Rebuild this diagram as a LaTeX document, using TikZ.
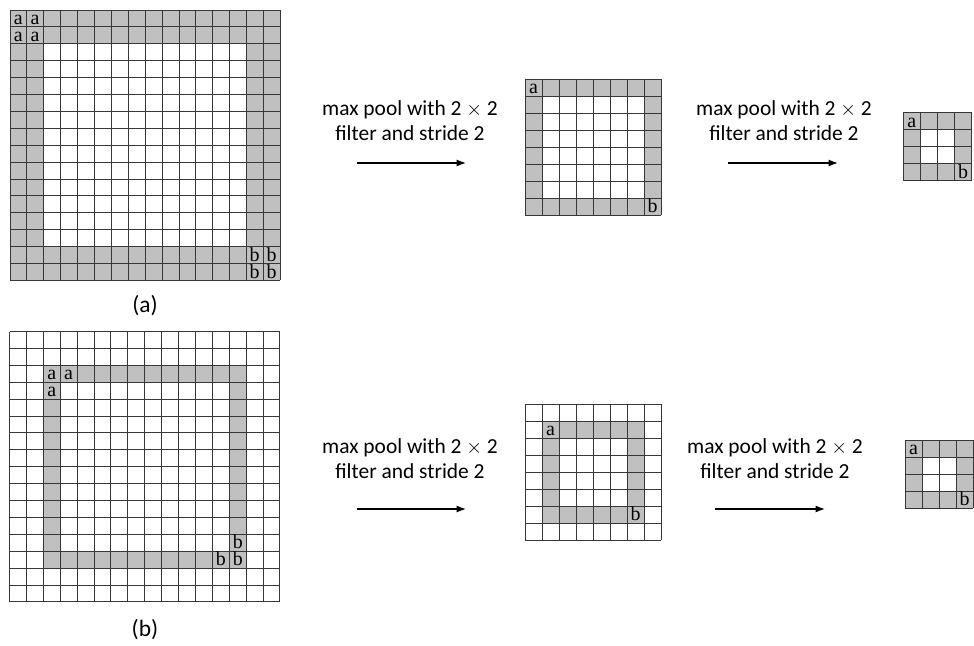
\documentclass[tikz,border=0pt]{standalone}
\usepackage{fontspec}
\setmainfont{Carlito}
\newfontfamily\cellfont{Liberation Serif}
\usetikzlibrary{arrows.meta}
\definecolor{ringgray}{RGB}{192,192,192}
\definecolor{gridline}{RGB}{55,55,55}

% one feature map: origin x, origin y, cell size, n, ring lo, ring hi, inner lo, inner hi
\newcommand{\featmap}[8]{%
  \begin{scope}[shift={(#1,#2)}, scale=#3]
    \fill[ringgray] (#5,#5) rectangle (#6,#6);
    \fill[white] (#7,#7) rectangle (#8,#8);
    \foreach \i in {0,...,#4} {
      \draw[gridstroke] (\i,0) -- (\i,#4);
      \draw[gridstroke] (0,\i) -- (#4,\i);
    }
  \end{scope}}

\begin{document}
\begin{tikzpicture}[
  x=0.03cm, y=-0.03cm,
  gridstroke/.style={draw=gridline, line width=0.8pt},
  letter/.style={font=\cellfont\fontsize{17}{17}\selectfont, inner sep=0pt, anchor=base},
  caption/.style={font=\fontsize{18.3}{21.5}\selectfont, align=center},
  sublabel/.style={font=\fontsize{20}{24}\selectfont},
  poolarrow/.style={-{Latex[length=8pt,width=6pt]}, line width=1.2pt}
]
\useasboundingbox (0,0) rectangle (974,646);

% (a) ring on the border
\featmap{10}{10}{16.9}{16}{0}{16}{2}{14}
\featmap{525}{79}{17}{8}{0}{8}{1}{7}
\featmap{903.3}{112.3}{17.1}{4}{0}{4}{1}{3}

\node[letter] (aa1) at (18.2,24.8) {a};
\node[letter] (aa2) at (35.1,24.8) {a};
\node[letter] (aa3) at (18.2,41.7) {a};
\node[letter] (aa4) at (35.1,41.7) {a};
\node[letter] (ab1) at (254.6,261.8) {b};
\node[letter] (ab2) at (271.5,261.8) {b};
\node[letter] (ab3) at (254.6,278.7) {b};
\node[letter] (ab4) at (271.5,278.7) {b};
\node[letter] (ma) at (533.5,93.8) {a};
\node[letter] (mb) at (652.5,212.8) {b};
\node[letter] (sa) at (911.8,127.1) {a};
\node[letter] (sb) at (963.2,178.4) {b};

\node[caption] (capa1) at (410,121) {max pool with 2 $\times$ 2\\filter and stride 2};
\node[caption] (capa2) at (784,121) {max pool with 2 $\times$ 2\\filter and stride 2};
\coordinate (a1s) at (357,163);
\coordinate (a1e) at (466,163);
\coordinate (a2s) at (728,163);
\coordinate (a2e) at (838,163);
\draw[poolarrow] (a1s) -- (a1e);
\draw[poolarrow] (a2s) -- (a2e);

\node[sublabel] (laba) at (145,306) {(a)};

% (b) ring moved inwards
\featmap{9.5}{331.5}{16.9}{16}{2}{14}{3}{13}
\featmap{525}{404}{17}{8}{1}{7}{2}{6}
\featmap{905}{440}{17}{4}{0}{4}{1}{3}

\node[letter] (ba1) at (51.7,379.8) {a};
\node[letter] (ba2) at (68.6,379.8) {a};
\node[letter] (ba3) at (51.7,396.7) {a};
\node[letter] (bb1) at (237.8,548.6) {b};
\node[letter] (bb2) at (220.9,565.5) {b};
\node[letter] (bb3) at (237.8,565.5) {b};
\node[letter] (na) at (550.5,435.8) {a};
\node[letter] (nb) at (635.5,520.8) {b};
\node[letter] (ta) at (913.5,454.8) {a};
\node[letter] (tb) at (964.5,505.8) {b};

\node[caption] (capb1) at (410,459) {max pool with 2 $\times$ 2\\filter and stride 2};
\node[caption] (capb2) at (775,459) {max pool with 2 $\times$ 2\\filter and stride 2};
\coordinate (b1s) at (357,509);
\coordinate (b1e) at (466,509);
\coordinate (b2s) at (715,509);
\coordinate (b2e) at (825,509);
\draw[poolarrow] (b1s) -- (b1e);
\draw[poolarrow] (b2s) -- (b2e);

\node[sublabel] (labb) at (145,630) {(b)};
\end{tikzpicture}
\end{document}
